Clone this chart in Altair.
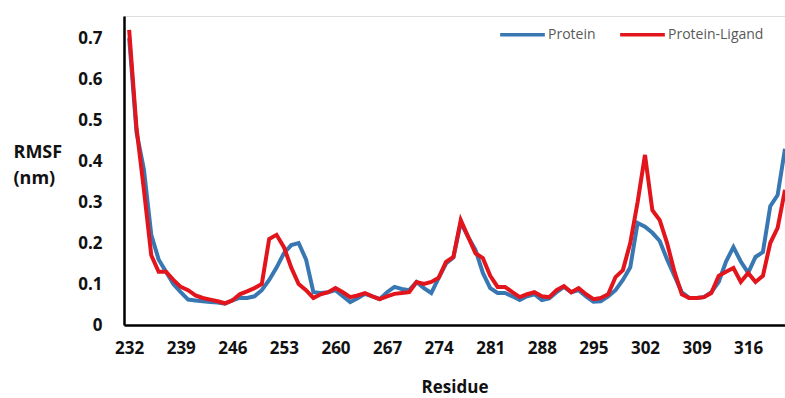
import altair as alt
import pandas as pd

# Residue numbers and per-residue RMSF (nm) for the two simulations
residues = list(range(232, 322))

protein = [
    0.70, 0.47, 0.38, 0.22, 0.16, 0.13, 0.10, 0.08, 0.062, 0.06,
    0.058, 0.056, 0.055, 0.052, 0.06, 0.066, 0.066, 0.07, 0.085, 0.11,
    0.14, 0.175, 0.195, 0.20, 0.16, 0.08, 0.078, 0.08, 0.085, 0.07,
    0.056, 0.065, 0.076, 0.07, 0.063, 0.08, 0.093, 0.088, 0.085, 0.105,
    0.09, 0.078, 0.115, 0.15, 0.165, 0.25, 0.215, 0.183, 0.127, 0.09,
    0.078, 0.078, 0.07, 0.061, 0.07, 0.075, 0.061, 0.065, 0.08, 0.093,
    0.08, 0.085, 0.07, 0.057, 0.058, 0.07, 0.085, 0.11, 0.141, 0.249,
    0.24, 0.225, 0.205, 0.16, 0.12, 0.08, 0.066, 0.066, 0.068, 0.08,
    0.105, 0.155, 0.19, 0.155, 0.127, 0.166, 0.178, 0.29, 0.317, 0.43,
]

protein_ligand = [
    0.72, 0.48, 0.33, 0.17, 0.13, 0.13, 0.11, 0.093, 0.085, 0.072,
    0.066, 0.062, 0.058, 0.053, 0.06, 0.075, 0.082, 0.09, 0.10, 0.21,
    0.22, 0.19, 0.14, 0.10, 0.085, 0.066, 0.075, 0.08, 0.09, 0.08,
    0.068, 0.072, 0.078, 0.07, 0.063, 0.07, 0.076, 0.078, 0.08, 0.105,
    0.10, 0.105, 0.115, 0.154, 0.166, 0.256, 0.215, 0.175, 0.163, 0.12,
    0.093, 0.093, 0.08, 0.068, 0.075, 0.08, 0.07, 0.068, 0.085, 0.095,
    0.08, 0.09, 0.075, 0.063, 0.066, 0.075, 0.117, 0.134, 0.20, 0.30,
    0.415, 0.28, 0.256, 0.20, 0.13, 0.075, 0.066, 0.066, 0.068, 0.078,
    0.12, 0.13, 0.139, 0.105, 0.127, 0.105, 0.12, 0.20, 0.237, 0.33,
]

series_names = ["Protein", "Protein-Ligand"]
series_colors = ["#3877b1", "#e3151c"]
x_ticks = list(range(232, 317, 7))
y_ticks = [0, 0.1, 0.2, 0.3, 0.4, 0.5, 0.6, 0.7]

df = pd.concat([
    pd.DataFrame({"Residue": residues, "RMSF": protein, "Series": series_names[0]}),
    pd.DataFrame({"Residue": residues, "RMSF": protein_ligand, "Series": series_names[1]}),
])

FONT = "Open Sans"

chart = alt.Chart(df).mark_line(strokeWidth=4, clip=True).encode(
    x=alt.X(
        "Residue:Q",
        scale=alt.Scale(domain=[231.3, 321], nice=False, zero=False),
        axis=alt.Axis(
            values=x_ticks, ticks=False, grid=False,
            domainColor="black", domainWidth=2.5,
            labelFont=FONT, labelFontWeight="bold", labelFontSize=17,
            labelColor="#111111", labelPadding=15, labelFlush=False,
            title="Residue", titleFont=FONT, titleFontWeight="bold",
            titleFontSize=17, titleColor="#111111",
            titleBaseline="alphabetic", titleY=67,
        ),
    ),
    y=alt.Y(
        "RMSF:Q",
        scale=alt.Scale(domain=[0, 0.754], nice=False),
        axis=alt.Axis(
            values=y_ticks, ticks=False, grid=False,
            domainColor="black", domainWidth=2.5,
            labelExpr="datum.value == 0 ? '0' : format(datum.value, '.1f')",
            labelFont=FONT, labelFontWeight="bold", labelFontSize=17,
            labelColor="#111111", labelPadding=22,
            title=["RMSF", "(nm)"], titleFont=FONT, titleFontWeight="bold",
            titleFontSize=18, titleColor="#111111", titleAngle=0,
            titleAlign="left", titleBaseline="alphabetic",
            titleX=-111, titleY=141, titleLineHeight=26,
        ),
    ),
    color=alt.Color(
        "Series:N",
        scale=alt.Scale(domain=series_names, range=series_colors),
        legend=alt.Legend(
            title=None, orient="none", legendX=374, legendY=-6,
            direction="horizontal", symbolType="stroke",
            symbolStrokeWidth=3.5, symbolSize=2000, symbolOffset=0,
            labelFont=FONT, labelFontSize=14, labelColor="#595959",
            labelOffset=1, columnPadding=17,
        ),
    ),
).properties(
    width=661,
    height=309,
    padding={"left": 124, "top": 16, "right": 0, "bottom": 73},
    autosize=alt.AutoSizeParams(type="none"),
).configure_view(stroke=None).configure(background="white")

chart.save("out.html", embed_options={"renderer": "svg", "actions": False})
